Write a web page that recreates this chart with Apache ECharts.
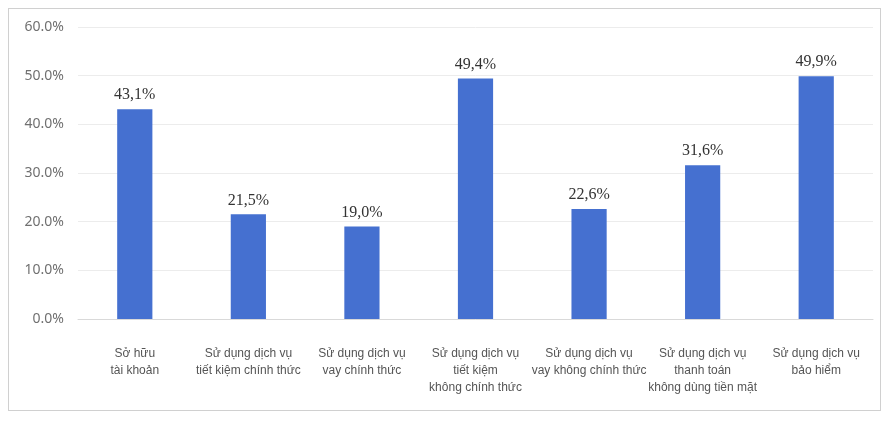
<!DOCTYPE html>
<html><head><meta charset="utf-8">
<script src="https://cdn.jsdelivr.net/npm/echarts@6/dist/echarts.min.js"></script>
<style>html,body{margin:0;padding:0;background:#fff}#c{width:890px;height:421px}
#frame{position:absolute;left:8px;top:8px;width:873px;height:403px;border:1px solid #d0d0d0;box-sizing:border-box;pointer-events:none}</style>
</head><body><div id="c"></div><div id="frame"></div>
<script>
const categories = ["Sở hữu\ntài khoản","Sử dụng dịch vụ\ntiết kiệm chính thức","Sử dụng dịch vụ\nvay chính thức","Sử dụng dịch vụ\ntiết kiệm\nkhông chính thức","Sử dụng dịch vụ\nvay không chính thức","Sử dụng dịch vụ\nthanh toán\nkhông dùng tiền mặt","Sử dụng dịch vụ\nbảo hiểm"];
const values = [43.1, 21.5, 19.0, 49.4, 22.6, 31.6, 49.9];
const yTicks = [0, 10, 20, 30, 40, 50, 60];
const chart = echarts.init(document.getElementById('c'), null, {renderer:'canvas'});
chart.setOption({
  animation:false,
  grid:{left:78,right:17,top:27,bottom:102},
  xAxis:{type:'category',data:categories,
    axisLine:{lineStyle:{color:'#d9d9d9'}},axisTick:{show:false},
    axisLabel:{interval:0,color:'#555',fontFamily:'Liberation Sans Narrow, Arial Narrow, sans-serif',fontSize:12,lineHeight:17,margin:26}},
  yAxis:{type:'value',min:yTicks[0],max:yTicks[yTicks.length-1],interval:10,
    axisLine:{show:false},axisTick:{show:false},
    splitLine:{lineStyle:{color:'#ececec'}},
    axisLabel:{color:'#707070',fontFamily:'Noto Sans, sans-serif',fontSize:14,margin:14,formatter:v=>v.toFixed(1)+'%'}},
  series:[{type:'bar',data:values,barWidth:'31%',itemStyle:{color:'#4570D0'},
    label:{show:true,position:'top',distance:6,color:'#333',fontFamily:'Liberation Serif, Times New Roman, serif',fontSize:16,
      formatter:p=>p.value.toFixed(1).replace('.',',')+'%'}}]
});
</script></body></html>
